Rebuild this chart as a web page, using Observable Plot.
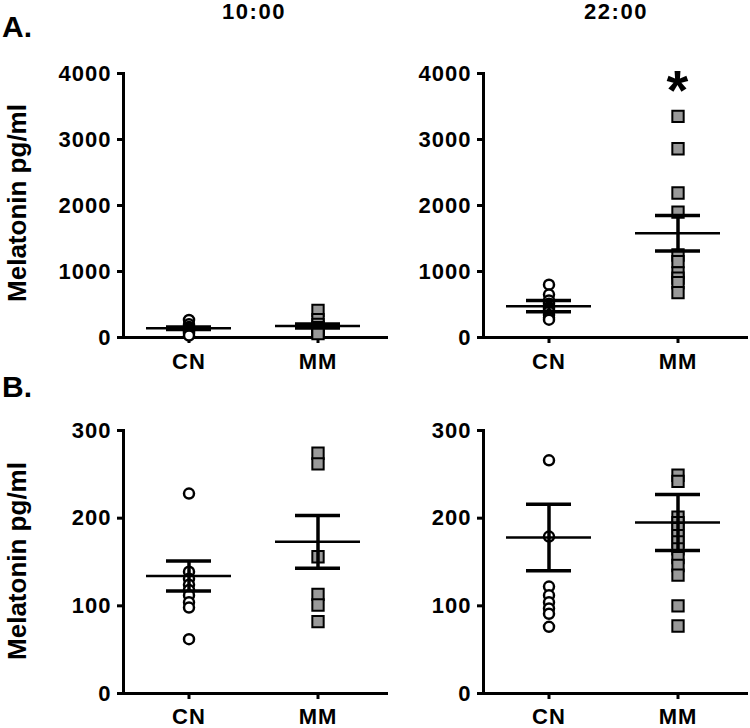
<!DOCTYPE html>
<html>
<head>
<meta charset="utf-8">
<script src="https://cdn.jsdelivr.net/npm/d3@7"></script>
<script src="https://cdn.jsdelivr.net/npm/@observablehq/plot@0.6"></script>
<style>
  html, body { margin: 0; background: #fff; overflow: hidden; }
  #fig { position: relative; width: 750px; height: 728px; background: #fff; overflow: hidden;
         font-family: "Liberation Sans", Arial, sans-serif; font-weight: bold; color: #000; }
  #fig > svg { position: absolute; }
</style>
</head>
<body>
<div id="fig"></div>
<script>
// ---- categories & labels ----
const groups = ["CN", "MM"];
const titles = ["10:00", "22:00"];
const panelLetters = ["A.", "B."];
const yLabel = "Melatonin pg/ml";
const ticksA = [0, 1000, 2000, 3000, 4000];
const ticksB = [0, 100, 200, 300];
const domainA = [0, 4000];
const domainB = [0, 300];

// ---- A. 10:00 ----
const a10CN = [265, 200, 160, 140, 120, 100, 80, 60, 30];
const a10MM = [410, 270, 200, 150, 120, 90, 60];
const a10Mean = [140, 175];
const a10Sem = [20, 30];

// ---- A. 22:00 ----
const a22CN = [800, 650, 560, 510, 460, 430, 390, 340, 300, 270];
const a22MM = [3350, 2860, 2190, 1900, 1250, 1150, 980, 900, 830, 680];
const a22Mean = [475, 1580];
const a22Sem = [85, 270];
const a22Star = [{g: "MM", v: 3740, t: "*"}];

// ---- B. 10:00 ----
const b10CN = [228, 139, 131, 124, 118, 112, 104, 98, 62];
const b10MM = [274, 262, 156, 113, 101, 82];
const b10Mean = [134, 173];
const b10Sem = [17, 30];

// ---- B. 22:00 ----
const b22CN = [266, 179, 122, 112, 104, 97, 91, 76];
const b22MM = [249, 242, 201, 195, 188, 180, 173, 165, 155, 146, 135, 100, 77];
const b22Mean = [178, 195];
const b22Sem = [38, 32];

const FONT = '"Liberation Sans", Arial, sans-serif';

function panel({cn, mm, mean, sem, domain, ticks, star, height, marginTop, marginBottom, tickPadding}) {
  const cnPts = cn.map(v => ({g: "CN", v}));
  const mmPts = mm.map(v => ({g: "MM", v}));
  const stats = groups.map((g, i) => ({g, m: mean[i], lo: mean[i] - sem[i], hi: mean[i] + sem[i]}));
  return Plot.plot({
    width: 390, height,
    marginLeft: 123, marginRight: 2, marginTop, marginBottom,
    style: {background: "transparent", fontFamily: FONT, fontWeight: "bold", fontSize: "22px",
            letterSpacing: "1px", color: "#000", overflow: "visible"},
    x: {type: "band", domain: groups, range: [145, 361], paddingInner: 0.338, paddingOuter: 0, label: null},
    y: {domain, label: null},
    marks: [
      Plot.ruleY([0], {strokeWidth: 3}),
      Plot.frame({anchor: "left", strokeWidth: 3}),
      Plot.axisY({ticks, tickFormat: "d", tickSize: 6, tickPadding: 6, strokeWidth: 3, label: null, fontSize: 22}),
      Plot.axisX({tickSize: 6, tickPadding, strokeWidth: 3, label: null, fontSize: 22}),
      Plot.dot(cnPts, {x: "g", y: "v", r: 5, symbol: "circle", fill: "white", stroke: "black", strokeWidth: 2.5}),
      Plot.dot(mmPts, {x: "g", y: "v", r: 6.4, symbol: "square", fill: "#999999", stroke: "black", strokeWidth: 2}),
      Plot.tickY(stats, {x: "g", y: "m", strokeWidth: 2.5}),
      Plot.tickY(stats, {x: "g", y: "lo", strokeWidth: 3.5, insetLeft: 20, insetRight: 20}),
      Plot.tickY(stats, {x: "g", y: "hi", strokeWidth: 3.5, insetLeft: 20, insetRight: 20}),
      Plot.ruleX(stats, {x: "g", y1: "lo", y2: "hi", strokeWidth: 3.5}),
      star ? Plot.text(star, {x: "g", y: "v", text: "t", fontSize: 56, fontWeight: "bold"}) : null
    ]
  });
}

const fig = document.getElementById("fig");

// text overlay
const ns = "http://www.w3.org/2000/svg";
const ov = document.createElementNS(ns, "svg");
ov.setAttribute("width", 750); ov.setAttribute("height", 728);
ov.style.left = "0px"; ov.style.top = "0px";
ov.setAttribute("font-family", FONT); ov.setAttribute("font-weight", "bold");
function addText(str, x, y, size, opts = {}) {
  const t = document.createElementNS(ns, "text");
  t.textContent = str;
  t.setAttribute("x", x); t.setAttribute("y", y);
  t.setAttribute("font-size", size);
  if (opts.anchor) t.setAttribute("text-anchor", opts.anchor);
  if (opts.ls) t.setAttribute("letter-spacing", opts.ls);
  if (opts.rotate) t.setAttribute("transform", `rotate(-90 ${x} ${y})`);
  ov.appendChild(t);
}
addText(titles[0], 254, 19, 22, {anchor: "middle", ls: "1.5"});
addText(titles[1], 616, 19, 22, {anchor: "middle", ls: "1.5"});
addText(panelLetters[0], 2, 37, 30);
addText(panelLetters[1], 2, 397, 30);
addText(yLabel, 26, 203, 26, {anchor: "middle", rotate: true});
addText(yLabel, 26, 561, 26, {anchor: "middle", rotate: true});
fig.appendChild(ov);

const rowA = {height: 320, marginTop: 13, marginBottom: 43, tickPadding: 10, domain: domainA, ticks: ticksA};
const rowB = {height: 312, marginTop: 14, marginBottom: 35, tickPadding: 9, domain: domainB, ticks: ticksB};
const specs = [
  {left: 0, top: 60, ...rowA, cn: a10CN, mm: a10MM, mean: a10Mean, sem: a10Sem},
  {left: 360, top: 60, ...rowA, cn: a22CN, mm: a22MM, mean: a22Mean, sem: a22Sem, star: a22Star},
  {left: 0, top: 416, ...rowB, cn: b10CN, mm: b10MM, mean: b10Mean, sem: b10Sem},
  {left: 360, top: 416, ...rowB, cn: b22CN, mm: b22MM, mean: b22Mean, sem: b22Sem}
];
for (const s of specs) {
  const p = panel(s);
  p.style.position = "absolute";
  p.style.left = s.left + "px";
  p.style.top = s.top + "px";
  fig.appendChild(p);
}
</script>
</body>
</html>
